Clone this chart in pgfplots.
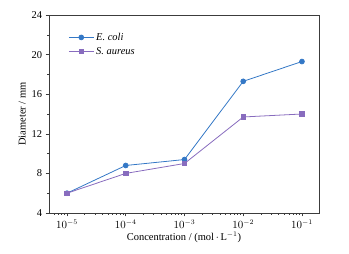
\documentclass[border=0pt]{standalone}
\usepackage{pgfplots}
\pgfplotsset{compat=1.18}
\usepackage{fontspec}
\setmainfont{Liberation Serif}
\definecolor{ecoli}{RGB}{52,120,198}
\definecolor{saureus}{RGB}{136,108,190}
\definecolor{axgray}{RGB}{60,60,60}
\begin{document}
\begin{tikzpicture}[x=1bp,y=1bp]
\useasboundingbox (0,0) rectangle (349,254);
\begin{axis}[
  at={(49bp,41bp)}, anchor=south west,
  scale only axis, width=270bp, height=198bp,
  xmode=log, log basis x=10,
  xmin=4.94e-6, xmax=0.195,
  ymin=4, ymax=24,
  ytick={4,8,12,16,20,24},
  minor ytick={6,10,14,18,22},
  xtick={1e-5,1e-4,1e-3,1e-2,1e-1},
  minor xtick={6e-6,7e-6,8e-6,9e-6,2e-5,3e-5,4e-5,5e-5,6e-5,7e-5,8e-5,9e-5,2e-4,3e-4,4e-4,5e-4,6e-4,7e-4,8e-4,9e-4,2e-3,3e-3,4e-3,5e-3,6e-3,7e-3,8e-3,9e-3,2e-2,3e-2,4e-2,5e-2,6e-2,7e-2,8e-2,9e-2},
  xticklabels={$10^{-5}$,$10^{-4}$,$10^{-3}$,$10^{-2}$,$10^{-1}$},
  tick pos=left, tick align=outside,
  major tick length=3.5bp, minor tick length=2bp,
  axis line style={axgray, line width=0.8pt},
  every tick/.style={axgray, line width=0.6pt},
  tick label style={font=\fontsize{10.5}{12}\selectfont, text=black},
  /pgf/number format/assume math mode=true,
  xlabel={Concentration / (mol\,$\cdot$\,L$^{-1}$)},
  ylabel={Diameter / mm},
  label style={font=\fontsize{10.5}{12}\selectfont},
  xlabel style={yshift=3bp},
  ylabel style={yshift=-1bp},
  legend style={draw=none, fill=none, at={(axis description cs:0.06,0.93)}, anchor=north west, font=\fontsize{10.5}{12}\selectfont\itshape, row sep=1.5bp},
  legend cell align=left,
  legend image code/.code={
    \draw[#1, mark repeat=2, mark phase=2] plot coordinates {(0bp,0bp) (12.5bp,0bp) (25bp,0bp)};
  },
]
\addplot[color=ecoli, line width=0.8pt, mark=*, mark size=2.4bp, mark options={fill=ecoli, draw=ecoli}]
  coordinates {(1e-5,6.0) (1e-4,8.8) (1e-3,9.4) (1e-2,17.3) (1e-1,19.3)};
\addlegendentry{E. coli}
\addplot[color=saureus, line width=0.8pt, mark=square*, mark size=2.2bp, mark options={fill=saureus, draw=saureus}]
  coordinates {(1e-5,6.0) (1e-4,8.0) (1e-3,9.0) (1e-2,13.7) (1e-1,14.0)};
\addlegendentry{S. aureus}
\end{axis}
\end{tikzpicture}
\end{document}
